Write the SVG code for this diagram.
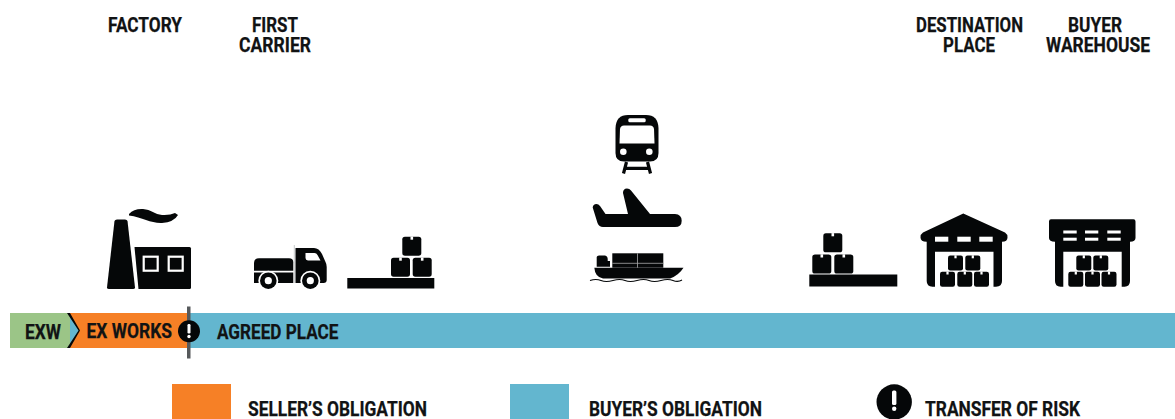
<svg xmlns="http://www.w3.org/2000/svg" width="1175" height="419" viewBox="0 0 1175 419">
<style>
text{font-family:Roboto,"Liberation Sans",Arial,sans-serif;font-weight:700;fill:#111314;stroke:#111314;stroke-width:.25;font-size:21px}
.k{fill:#050708}.w{fill:#fff}
</style>
<defs>
<g id="box"><rect width="19" height="19" rx="2.600" class="k"/><rect x="8.200" y="-.2" width="2.600" height="3.200" class="w"/></g>
<g id="sbox"><rect width="15" height="15" rx="2.200" class="k"/><rect x="6.400" y="-.2" width="2.200" height="3" class="w"/></g>
</defs>
<g id="bar">
<rect x="10" y="313" width="1165" height="35" fill="#63b6cf"/>
<rect x="10" y="313" width="60" height="35" fill="#9bc587"/>
<path d="M68 313H188V348H68L79 330.500Z" fill="#f68026"/>
<path d="M67 313L78.500 330.500L67 348L70 348L80 330.500L70 313Z" class="k"/>
<rect x="187" y="306.500" width="3.500" height="52" fill="#56595b"/>
<text x="25" y="338.500" textLength="36" lengthAdjust="spacingAndGlyphs">EXW</text>
<text x="86.500" y="337.500" textLength="85.500" lengthAdjust="spacingAndGlyphs">EX WORKS</text>
<text x="217" y="338.500" textLength="121.500" lengthAdjust="spacingAndGlyphs">AGREED PLACE</text>
<circle cx="189" cy="331.300" r="11" class="k"/>
<rect x="187.500" y="324" width="3" height="9.500" rx="1.200" class="w"/><circle cx="189" cy="336.500" r="1.700" class="w"/>
</g>
<g id="node-factory">
<text x="108" y="31.500" textLength="74" lengthAdjust="spacingAndGlyphs">FACTORY</text>
<path class="k" d="M107 287.500L114.500 221Q115 219.500 117 219.500H125Q127 219.500 127.500 221L135 287.500Q135 289 133 289H109Q107 289 107 287.500Z"/>
<path class="k" d="M134.500 247H189.500Q191 247 191 248.500V287.500Q191 289 189.500 289H138.500Z"/>
<path class="k" d="M129 214Q134 208.500 143 209C151 209.500 155 214.500 162 215Q170 215.500 175 213L178 215Q174 222 162 223C151 223.500 143 217.500 129 215.500Z"/>
<rect x="143.700" y="256.700" width="14" height="14" fill="none" stroke="#fff" stroke-width="2.200"/>
<rect x="168.700" y="256.700" width="14" height="14" fill="none" stroke="#fff" stroke-width="2.200"/>
</g>
<g id="node-first-carrier">
<text><tspan x="252" y="31.500" textLength="46" lengthAdjust="spacingAndGlyphs">FIRST</tspan><tspan x="239" y="51.500" textLength="72" lengthAdjust="spacingAndGlyphs">CARRIER</tspan></text>
<path class="k" d="M259 258.300H289Q293.300 258.300 293.300 262.500V270.700H254V263Q254 258.300 259 258.300Z"/>
<path class="k" d="M254 272.500H293.300V283H254Z"/>
<path class="k" d="M295.500 248H314Q319 248 322 254L325.500 262Q326.700 264 326.700 267V280Q326.700 283 323.500 283H295.500Z"/>
<path class="w" d="M305.500 253H314.500Q316.500 253 317.500 255L320.500 260.500H308Q305.500 260 305.500 258Z"/>
<rect x="293.800" y="245" width="1" height="38" fill="#c9cbcc"/>
<circle cx="268.300" cy="280.700" r="10" class="w"/><circle cx="268.300" cy="280.700" r="8.300" class="k"/><circle cx="268.300" cy="280.700" r="3.600" class="w"/>
<circle cx="310.300" cy="280.700" r="10" class="w"/><circle cx="310.300" cy="280.700" r="8.300" class="k"/><circle cx="310.300" cy="280.700" r="3.600" class="w"/>
<rect x="347.300" y="278" width="87" height="10.500" class="k"/>
<use href="#box" x="402.300" y="236.700"/><use href="#box" x="391" y="257.700"/><use href="#box" x="412.700" y="257.700"/>
</g>
<g id="node-transport">
<path class="k" d="M628 115H646Q658 115 658.500 128V153Q658.500 161.500 650 161.500H624Q615.500 161.500 615.500 153V128Q616 115 628 115Z"/>
<rect x="628.300" y="118.300" width="17.400" height="4" rx="1.500" class="w"/>
<path class="w" d="M624 125.500H650Q653.500 125.500 654 129L654.500 143.500H619.500L620 129Q620.500 125.500 624 125.500Z"/>
<circle cx="623.300" cy="151.700" r="3.300" class="w"/><circle cx="649.300" cy="151.700" r="3.300" class="w"/>
<path d="M626.500 162L623.500 173.500M647.500 162L650.500 173.500M625 168.300H649" fill="none" stroke="#050708" stroke-width="3.200"/>
<path class="k" d="M592.700 207.500Q593 204 596.500 204Q598.500 204 600 206L605.500 214H628L623 193Q623 188.500 627 188.500Q629.500 188.500 631 190.500L650 214H675Q681.700 214.500 681.700 220.700Q681.700 227 675 227H603Q599 227 597.500 223Z"/>
<path class="k" d="M594.300 267.700H683.500Q679 275 670 278.500H603Q595 277 594.300 267.700Z"/>
<rect x="612.300" y="253.300" width="51" height="14.400" class="k"/>
<path d="M637.500 253.300V267.700M612.300 263.300H663.300" stroke="#a9abac" stroke-width=".8" fill="none"/>
<path class="k" d="M596.700 257Q597 255.500 599 255.500H605Q607.700 256 607.700 259V261H610V266.700H596.700Z"/>
<path d="M590 280.500Q596 278.500 601 280.500T613 280.500T625 280.500T637 280.500T649 280.500T661 280.500T673 280.500T682 280" fill="none" stroke="#050708" stroke-width="1.100"/>
</g>
<g id="node-destination-place">
<text><tspan x="916" y="31.500" textLength="107" lengthAdjust="spacingAndGlyphs">DESTINATION</tspan><tspan x="943" y="51.500" textLength="52" lengthAdjust="spacingAndGlyphs">PLACE</tspan></text>
<rect x="809.300" y="274.500" width="88" height="12" class="k"/>
<use href="#box" x="823.300" y="233.300"/><use href="#box" x="812.300" y="254.500"/><use href="#box" x="834.300" y="254.500"/>
<path class="k" d="M963.300 213.500L1005 232.500Q1007.500 234 1007.500 237.500Q1007.500 241.700 1002 241.700V281Q1002 286.700 996 286.700H993.500V251.700H935V286.700H932.500Q926.700 286.700 926.700 281V241.700Q920.500 241.700 920.500 237.500Q920.500 234 923 232.500Z"/>
<rect x="935" y="236.700" width="13.300" height="5" class="w"/><rect x="957.300" y="236.700" width="13.400" height="5" class="w"/><rect x="979.300" y="236.700" width="13.400" height="5" class="w"/>
<use href="#sbox" x="948" y="255.500"/><use href="#sbox" x="965.300" y="255.500"/>
<use href="#sbox" x="940" y="271.700"/><use href="#sbox" x="957.300" y="271.700"/><use href="#sbox" x="974" y="271.700"/>
</g>
<g id="node-buyer-warehouse">
<text><tspan x="1068" y="31.500" textLength="54" lengthAdjust="spacingAndGlyphs">BUYER</tspan><tspan x="1046" y="51.500" textLength="104" lengthAdjust="spacingAndGlyphs">WAREHOUSE</tspan></text>
<path class="k" d="M1051 219.300H1133.500Q1135.500 219.300 1135.500 221.500V238Q1135.500 241.700 1130 241.700V281Q1130 286.700 1124.500 286.700H1121.700V251.700H1063.300V286.700H1060.500Q1055 286.700 1055 281V241.700Q1049 241.700 1049 238V221.500Q1049 219.300 1051 219.300Z"/>
<rect x="1063.300" y="230.500" width="13.400" height="3" class="w"/><rect x="1085" y="230.500" width="13.300" height="3" class="w"/><rect x="1107.300" y="230.500" width="13.400" height="3" class="w"/>
<rect x="1063.300" y="237.700" width="13.400" height="3" class="w"/><rect x="1085" y="237.700" width="13.300" height="3" class="w"/><rect x="1107.300" y="237.700" width="13.400" height="3" class="w"/>
<use href="#sbox" x="1076.300" y="255.500"/><use href="#sbox" x="1093.300" y="255.500"/>
<use href="#sbox" x="1068.300" y="271.700"/><use href="#sbox" x="1085" y="271.700"/><use href="#sbox" x="1101.500" y="271.700"/>
</g>
<g id="legend">
<rect x="172" y="384" width="59" height="35" fill="#f68026"/>
<text x="248" y="416" textLength="179" lengthAdjust="spacingAndGlyphs">SELLER’S OBLIGATION</text>
<rect x="510" y="384" width="59" height="35" fill="#63b6cf"/>
<text x="589" y="416" textLength="173" lengthAdjust="spacingAndGlyphs">BUYER’S OBLIGATION</text>
<circle cx="894.200" cy="402" r="17.700" class="k"/>
<rect x="892" y="390.500" width="4.400" height="14.500" rx="1.500" class="w"/><circle cx="894.200" cy="408.800" r="2.200" class="w"/>
<text x="925" y="415.500" textLength="155" lengthAdjust="spacingAndGlyphs">TRANSFER OF RISK</text>
</g>
<g id="connectors"></g>
</svg>
